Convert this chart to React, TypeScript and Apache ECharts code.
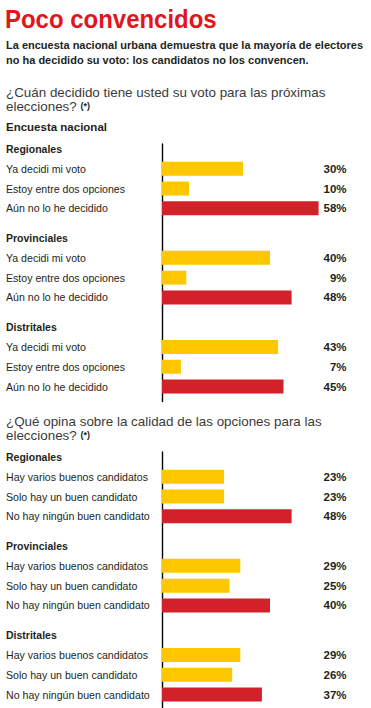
import React, { useEffect, useRef } from 'react';
import * as echarts from 'echarts';

// ---------- data ----------
const TITLE = 'Poco convencidos';
const SUBTITLE_LINES = [
  'La encuesta nacional urbana demuestra que la mayoría de electores',
  'no ha decidido su voto: los candidatos no los convencen.',
];
const Q1_LINES = ['¿Cuán decidido tiene usted su voto para las próximas', 'elecciones?'];
const Q2_LINES = ['¿Qué opina sobre la calidad de las opciones para las', 'elecciones?'];
const NOTE_MARK = '(*)';
const SURVEY_LABEL = 'Encuesta nacional';
const GROUPS = ['Regionales', 'Provinciales', 'Distritales'];

const Q1_OPTIONS = ['Ya decidi mi voto', 'Estoy entre dos opciones', 'Aún no lo he decidido'];
const Q1_REGIONALES = [30, 10, 58];
const Q1_PROVINCIALES = [40, 9, 48];
const Q1_DISTRITALES = [43, 7, 45];

const Q2_OPTIONS = ['Hay varios buenos candidatos', 'Solo hay un buen candidato', 'No hay ningún buen candidato'];
const Q2_REGIONALES = [23, 23, 48];
const Q2_PROVINCIALES = [29, 25, 40];
const Q2_DISTRITALES = [29, 26, 37];

// ---------- style ----------
const YELLOW = '#ffc700';
const RED = '#d32129';
const TITLE_RED = '#e3151c';
const INK = '#231f20';
const QINK = '#3a3a3a';
const SANS = '"Liberation Sans", Arial, sans-serif';

const ROWS = 26; // row slots per question block
const GROUP_STEP = 9;
const X_MAX = 68;

type Row = { label: string; kind: 'h' | 'o' | ''; value: number | null; opt: number };

function buildRows(options: string[], groups: number[][]): Row[] {
  const rows: Row[] = [];
  for (let i = 0; i < ROWS; i++) rows.push({ label: '', kind: '', value: null, opt: -1 });
  groups.forEach((vals, g) => {
    const base = g * GROUP_STEP;
    rows[base] = { label: GROUPS[g], kind: 'h', value: null, opt: -1 };
    vals.forEach((v, j) => {
      rows[base + 2 + j * 2] = { label: options[j], kind: 'o', value: v, opt: j };
    });
  });
  return rows;
}

const BLOCKS = [
  buildRows(Q1_OPTIONS, [Q1_REGIONALES, Q1_PROVINCIALES, Q1_DISTRITALES]),
  buildRows(Q2_OPTIONS, [Q2_REGIONALES, Q2_PROVINCIALES, Q2_DISTRITALES]),
];

const GRID_TOPS = [144, 452];
const ROW_H = 9.9;

function buildOption() {
  const grids: any[] = [];
  const xAxes: any[] = [];
  const yAxes: any[] = [];
  const series: any[] = [];

  BLOCKS.forEach((rows, b) => {
    const cats = rows.map((_, i) => 'r' + i);
    grids.push({
      left: 162,
      width: X_MAX * 2.7,
      top: GRID_TOPS[b],
      height: ROWS * ROW_H,
      containLabel: false,
      outerBoundsMode: 'none',
    });
    xAxes.push({
      type: 'value',
      gridIndex: b,
      min: 0,
      max: X_MAX,
      show: false,
    });
    yAxes.push({
      type: 'category',
      gridIndex: b,
      inverse: true,
      data: cats,
      axisLine: { show: true, lineStyle: { color: '#000', width: 1.4 } },
      axisTick: { show: false },
      splitLine: { show: false },
      axisLabel: {
        interval: 0,
        align: 'left',
        margin: 156,
        hideOverlap: false,
        formatter: (_v: string, idx: number) => {
          const r = rows[idx];
          if (!r || !r.kind) return '';
          return '{' + r.kind + '|' + r.label + '}';
        },
        rich: {
          h: { fontFamily: SANS, fontWeight: 'bold', fontSize: 10.5, color: INK },
          o: { fontFamily: SANS, fontWeight: 'normal', fontSize: 10.6, color: INK },
        },
      },
    });
    yAxes.push({
      type: 'category',
      gridIndex: b,
      inverse: true,
      position: 'right',
      data: cats,
      axisLine: { show: false },
      axisTick: { show: false },
      splitLine: { show: false },
      axisLabel: {
        interval: 0,
        align: 'right',
        margin: 1,
        fontFamily: SANS,
        fontWeight: 'bold',
        fontSize: 11.5,
        color: INK,
        formatter: (_v: string, idx: number) => {
          const r = rows[idx];
          return r && r.value != null ? r.value + '%' : '';
        },
      },
    });
    series.push({
      type: 'bar',
      xAxisIndex: b,
      yAxisIndex: b * 2,
      barWidth: 14,
      silent: true,
      data: rows.map((r) =>
        r.value == null
          ? '-'
          : { value: r.value, itemStyle: { color: r.opt === 2 ? RED : YELLOW } }
      ),
    });
  });

  const text = (x: number, y: number, t: string, st: any, extra: any = {}) => ({
    type: 'text',
    x,
    y,
    silent: true,
    ...extra,
    style: { text: t, align: 'left', verticalAlign: 'middle', ...st },
  });

  const qStyle = { fontFamily: SANS, fontSize: 13.4, fill: QINK };
  const rich = { b: { fontFamily: SANS, fontWeight: 'bold', fontSize: 9, fill: INK } };

  const graphic: any[] = [
    text(5, 19.5, TITLE, { fontFamily: SANS, fontWeight: 'bold', fontSize: 25.5, fill: TITLE_RED }, { scaleX: 0.94 }),
    text(6, 44.5, SUBTITLE_LINES[0], { fontFamily: SANS, fontWeight: 'bold', fontSize: 11, fill: INK }),
    text(6, 59.5, SUBTITLE_LINES[1], { fontFamily: SANS, fontWeight: 'bold', fontSize: 11, fill: INK }),
    text(6, 92.5, Q1_LINES[0], qStyle),
    text(6, 106, Q1_LINES[1] + ' {b|' + NOTE_MARK + '}', { ...qStyle, rich }),
    text(6, 127, SURVEY_LABEL, { fontFamily: SANS, fontWeight: 'bold', fontSize: 11.5, fill: INK }),
    text(6, 421.5, Q2_LINES[0], qStyle),
    text(6, 435, Q2_LINES[1] + ' {b|' + NOTE_MARK + '}', { ...qStyle, rich }),
  ];

  return {
    animation: false,
    backgroundColor: '#ffffff',
    grid: grids,
    xAxis: xAxes,
    yAxis: yAxes,
    series,
    graphic,
  };
}

export default function App() {
  const ref = useRef<HTMLDivElement>(null);
  useEffect(() => {
    document.body.style.margin = '0';
    if (!ref.current) return;
    const chart = echarts.init(ref.current, undefined, { renderer: 'svg' });
    chart.setOption(buildOption());
    return () => chart.dispose();
  }, []);
  return <div ref={ref} style={{ width: 371, height: 708 }} />;
}
